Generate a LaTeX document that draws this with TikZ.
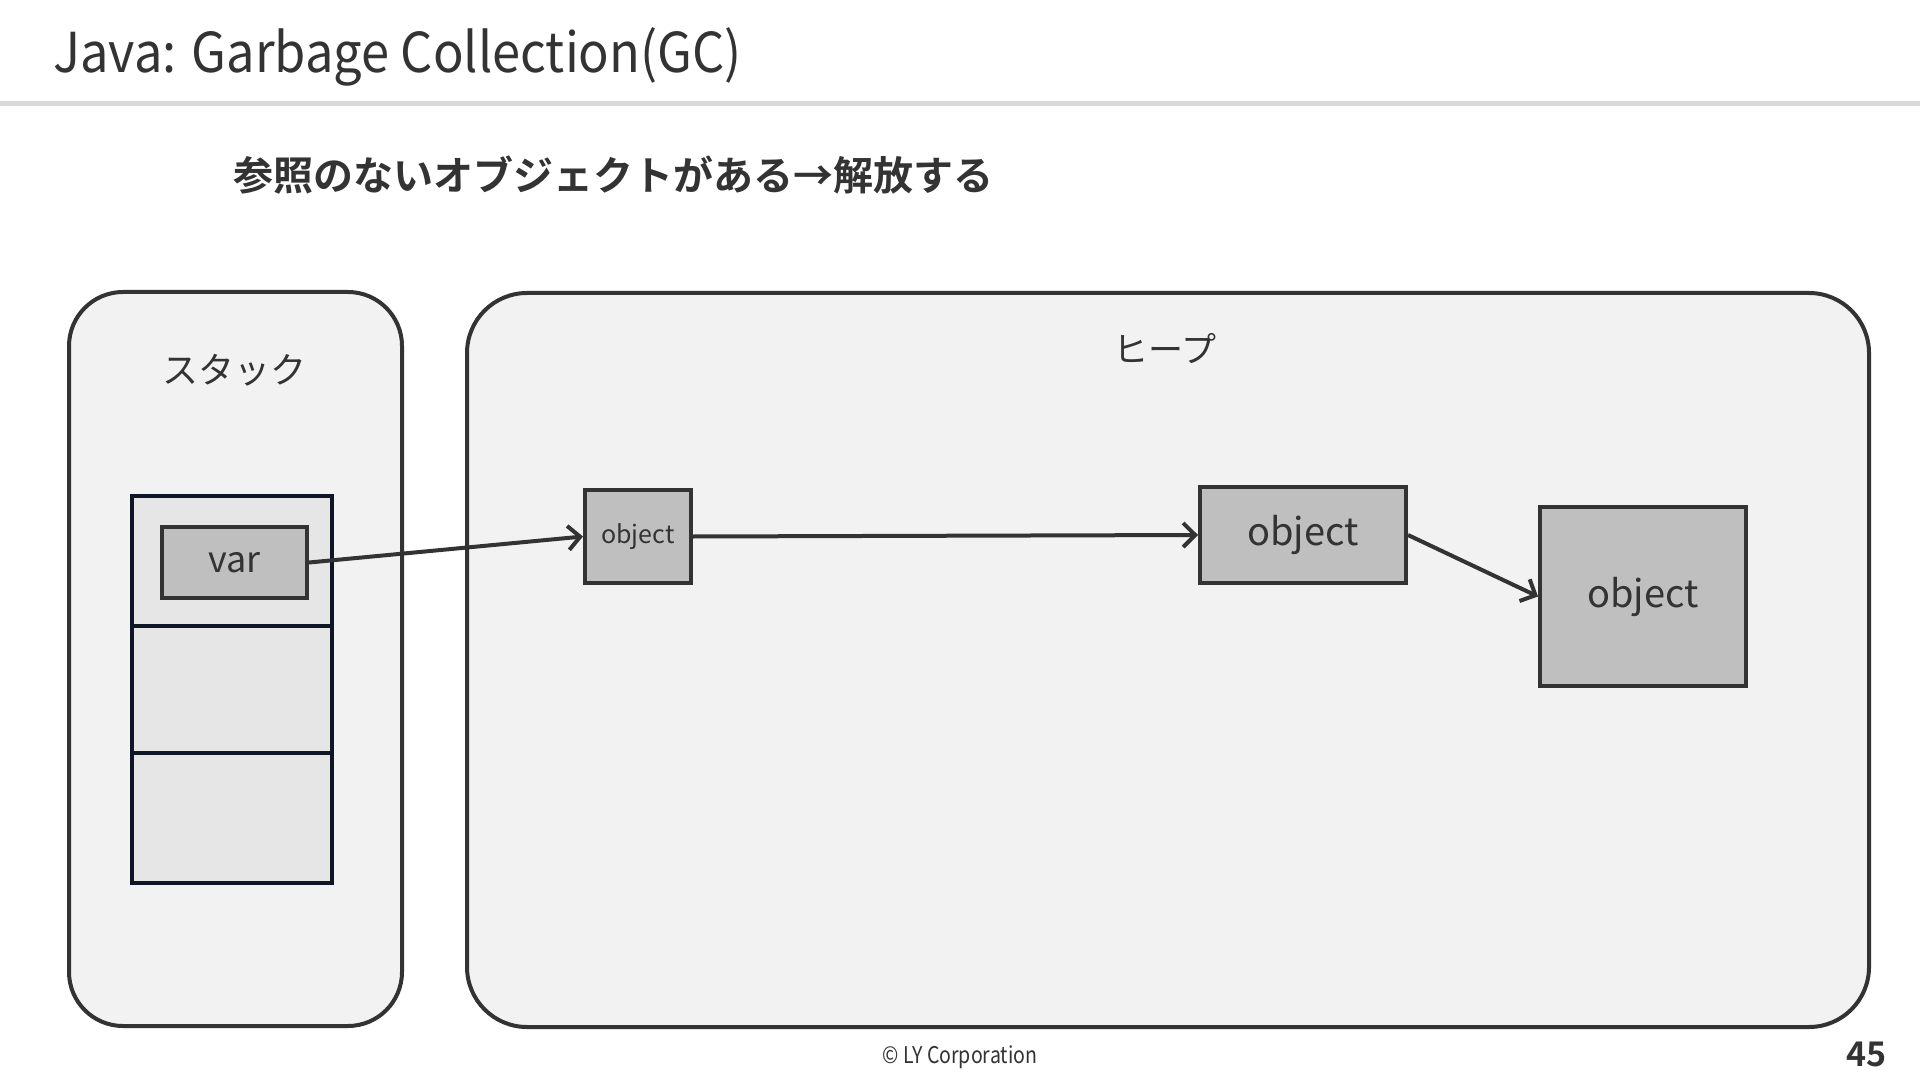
\documentclass[tikz,border=0pt]{standalone}
\usepackage{fontspec}
\setmainfont{Noto Sans CJK JP}[BoldFont={Noto Sans CJK JP Bold}]
\newfontfamily\titlefont{Noto Sans CJK JP}[FakeStretch=0.92]
\newfontfamily\footfont{Noto Sans CJK JP}[FakeStretch=0.85]
\usetikzlibrary{arrows.meta}
\definecolor{ink}{HTML}{333333}
\definecolor{panelfill}{HTML}{F2F2F2}
\definecolor{cellfill}{HTML}{E6E6E6}
\definecolor{objfill}{HTML}{BFBFBF}
\definecolor{navy}{HTML}{0E1628}
\definecolor{rulegray}{HTML}{D9D9D9}
\begin{document}
\begin{tikzpicture}[x=0.5pt,y=-0.5pt,
  txt/.style={text=ink, inner sep=0pt},
  panel/.style={draw=ink, fill=panelfill, line width=2pt, inner sep=0pt, anchor=north west},
  cell/.style={draw=navy, fill=cellfill, line width=2pt, minimum width=100pt, inner sep=0pt},
  objbox/.style={draw=ink, fill=objfill, line width=2pt, inner sep=0pt, text=ink},
  ref/.style={draw=ink, line width=2pt, -{Straight Barb[length=6pt,width=12pt,line width=2pt]}}]
\useasboundingbox (0,0) rectangle (1920,1080);
\fill[white] (0,0) rectangle (1920,1080);
\fill[rulegray] (0,101) rectangle (1920,106);
\node[txt, anchor=base west] (title) at (53,73) {\titlefont\fontsize{27.5pt}{30pt}\selectfont Java: Garbage Collection(GC)};
\node[txt, anchor=west] (sub) at (233,175) {\bfseries\fontsize{20pt}{22pt}\selectfont 参照のないオブジェクトがある→解放する};
% panels
\node[panel, rounded corners=27pt, minimum width=166.5pt, minimum height=367pt] (stack) at (67,290) {};
\node[panel, rounded corners=30pt, minimum width=701pt, minimum height=367pt] (heap) at (465,291) {};
\node[txt, font=\fontsize{18pt}{20pt}\selectfont] (stacklbl) at (234,370) {スタック};
\node[txt, font=\fontsize{17.5pt}{20pt}\selectfont] (heaplbl) at (1165,349) {ヒープ};
% stack frames
\node[cell, minimum height=65pt] (cell1) at (232,561) {};
\node[cell, minimum height=63.5pt] (cell2) at (232,689.5) {};
\node[cell, minimum height=65pt] (cell3) at (232,818) {};
\node[objbox, minimum width=72.5pt, minimum height=35.5pt, font=\fontsize{18pt}{20pt}\selectfont] (var) at (234.5,562.5) {var};
% objects
\node[objbox, minimum width=53pt, minimum height=46.5pt, font=\fontsize{12.5pt}{14pt}\selectfont] (obj1) at (638,536.5) {object};
\node[objbox, minimum width=103pt, minimum height=48pt, font=\fontsize{19pt}{21pt}\selectfont] (obj2) at (1303,535) {object};
\node[objbox, minimum width=103pt, minimum height=89.5pt, font=\fontsize{19pt}{21pt}\selectfont] (obj3) at (1643,596.5) {object};
% references
\draw[ref] (var.east) -- (obj1.west);
\draw[ref] (obj1.east) -- (obj2.west);
\draw[ref] (obj2.east) -- (obj3.west);
% footer
\node[txt] (copy) at (960,1057) {\footfont\fontsize{11.5pt}{13pt}\selectfont © LY Corporation};
\node[txt, anchor=east] (page) at (1887,1054) {\bfseries\fontsize{17pt}{19pt}\selectfont 45};
\end{tikzpicture}
\end{document}
